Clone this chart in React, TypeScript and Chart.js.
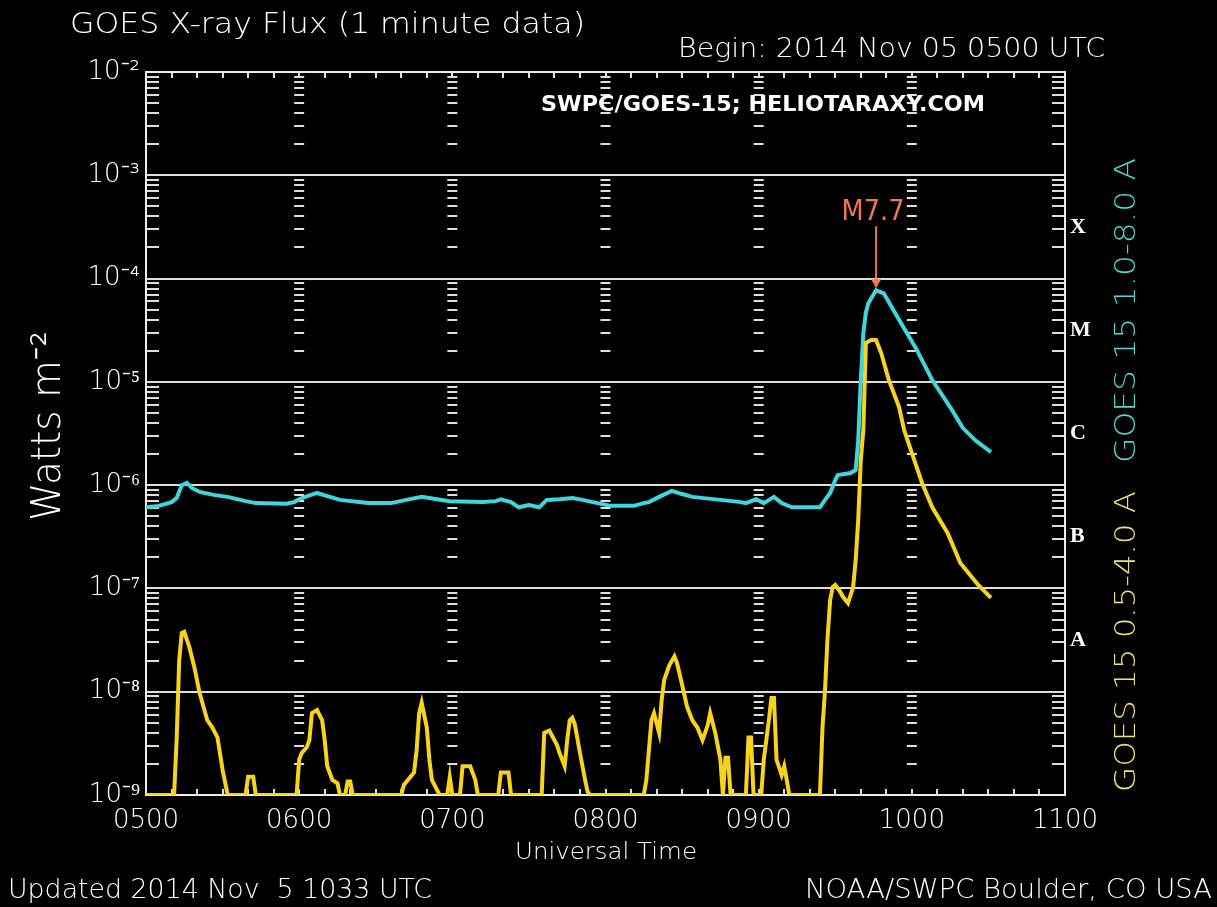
import React, { useEffect, useRef } from 'react';
import { Chart, registerables } from 'chart.js';

Chart.register(...registerables);

// ---------------- data ----------------
const timeTickLabels = ['0500', '0600', '0700', '0800', '0900', '1000', '1100'];
const decadeExponents = [-9, -8, -7, -6, -5, -4, -3, -2];
const classLabels = ['A', 'B', 'C', 'M', 'X'];
const classBaseExponents = [-8, -7, -6, -5, -4];

// GOES 15 1.0-8.0 A (minutes after 0500 UTC, W/m^2)
const longMinutes = [0, 5, 10, 12, 14, 16, 18, 21, 27, 32, 39, 43, 55, 58, 61, 67, 72, 76, 87, 96, 102, 108, 114, 119, 132, 137, 139, 143, 146, 150, 154, 157, 162, 167, 171, 175, 182, 191, 195, 197, 201, 206, 210, 214, 225, 233, 235, 239, 242, 246, 249, 253, 264, 266, 268, 270, 271, 276, 278, 279, 280, 281, 282, 283, 286, 289, 295, 302, 308, 315, 320, 325, 331];
const longFlux = [6.1e-7, 6.3e-7, 6.85e-7, 7.5e-7, 1.0e-6, 1.05e-6, 9.4e-7, 8.6e-7, 8.0e-7, 7.7e-7, 7.0e-7, 6.7e-7, 6.6e-7, 6.85e-7, 7.5e-7, 8.4e-7, 7.7e-7, 7.2e-7, 6.7e-7, 6.7e-7, 7.2e-7, 7.7e-7, 7.3e-7, 7.0e-7, 6.85e-7, 7.0e-7, 7.3e-7, 6.85e-7, 6.1e-7, 6.4e-7, 6.1e-7, 7.2e-7, 7.3e-7, 7.5e-7, 7.2e-7, 6.85e-7, 6.3e-7, 6.3e-7, 6.7e-7, 6.85e-7, 7.7e-7, 8.8e-7, 8.2e-7, 7.7e-7, 7.2e-7, 6.85e-7, 6.7e-7, 7.3e-7, 6.7e-7, 7.7e-7, 6.7e-7, 6.1e-7, 6.1e-7, 7.2e-7, 8.4e-7, 1.12e-6, 1.25e-6, 1.31e-6, 1.4e-6, 2.7e-6, 1.04e-5, 2.96e-5, 4.7e-5, 5.8e-5, 7.7e-5, 7.2e-5, 4.0e-5, 2.03e-5, 1.04e-5, 5.7e-6, 3.57e-6, 2.7e-6, 2.09e-6];

// GOES 15 0.5-4.0 A
const shortMinutes = [0, 11, 12, 13, 14, 15, 16, 17, 19, 21, 24, 26, 28, 30, 32, 39, 40, 42, 43, 59, 60, 61, 63, 64, 65, 67, 69, 70, 71, 73, 75, 76, 78, 79, 80, 81, 100, 101, 105, 106, 107, 108, 110, 111, 112, 115, 118, 119, 120, 123, 124, 127, 129, 130, 138, 139, 142, 143, 155, 156, 158, 161, 162, 164, 165, 166, 167, 168, 170, 172, 173, 174, 195, 196, 198, 199, 201, 202, 203, 205, 207, 208, 209, 212, 214, 216, 218, 220, 221, 223, 225, 226, 227, 228, 229, 235, 236, 237, 238, 241, 242, 244, 245, 246, 247, 249, 250, 251, 252, 264, 265, 266, 267, 268, 269, 270, 272, 273, 275, 277, 278, 279, 280, 281, 282, 284, 286, 288, 291, 295, 297, 300, 304, 308, 314, 319, 326, 331];
const shortFlux = [1e-9, 1e-9, 3.4e-9, 2.0e-8, 3.7e-8, 3.8e-8, 3.2e-8, 2.7e-8, 1.7e-8, 9.7e-9, 5.3e-9, 4.5e-9, 3.6e-9, 1.75e-9, 1e-9, 1e-9, 1.5e-9, 1.5e-9, 1e-9, 1e-9, 2.2e-9, 2.55e-9, 2.9e-9, 3.4e-9, 6.2e-9, 6.65e-9, 5.3e-9, 3.4e-9, 1.9e-9, 1.4e-9, 1.3e-9, 1e-9, 1e-9, 1.35e-9, 1.35e-9, 1e-9, 1e-9, 1.25e-9, 1.65e-9, 2.7e-9, 6.2e-9, 7.8e-9, 4.5e-9, 2.2e-9, 1.4e-9, 1e-9, 1e-9, 1.5e-9, 1e-9, 1e-9, 1.9e-9, 1.9e-9, 1.4e-9, 1e-9, 1e-9, 1.65e-9, 1.65e-9, 1e-9, 1e-9, 4.0e-9, 4.2e-9, 3.05e-9, 2.55e-9, 1.9e-9, 3.4e-9, 5.3e-9, 5.6e-9, 4.8e-9, 2.55e-9, 1.4e-9, 1.07e-9, 1e-9, 1e-9, 1.4e-9, 5.3e-9, 6.2e-9, 4.0e-9, 8.3e-9, 1.3e-8, 1.8e-8, 2.2e-8, 1.9e-8, 1.5e-8, 7.1e-9, 5.3e-9, 4.5e-9, 3.4e-9, 4.7e-9, 6.2e-9, 4.0e-9, 2.2e-9, 1e-9, 2.3e-9, 2.3e-9, 1e-9, 1e-9, 3.6e-9, 3.6e-9, 1e-9, 1e-9, 2.2e-9, 5.3e-9, 8.7e-9, 8.7e-9, 2.2e-9, 1.56e-9, 1.9e-9, 1.4e-9, 1e-9, 1e-9, 4.5e-9, 1.04e-8, 3.4e-8, 7.7e-8, 1.03e-7, 1.08e-7, 9.2e-8, 8.3e-8, 7.2e-8, 1.03e-7, 1.88e-7, 4.6e-7, 1.75e-6, 3.4e-6, 2.38e-5, 2.54e-5, 2.54e-5, 1.9e-5, 1.04e-5, 5.7e-6, 3.4e-6, 2.05e-6, 1.05e-6, 6.1e-7, 3.44e-7, 1.76e-7, 1.08e-7, 8.1e-8];

// ---------------- styling ----------------
const FONT = '"DejaVu Sans", sans-serif';
const THIN = '200';
const WHITE = '#ffffff';
const GRID = '#dedede';
const CYAN = '#3ed6dc';
const YELLOW = '#f8d31c';
const ORANGE = '#f07650';

const SUP: Record<string, string> = { '-': '\u207B', '0': '\u2070', '1': '\u00B9', '2': '\u00B2', '3': '\u00B3', '4': '\u2074', '5': '\u2075', '6': '\u2076', '7': '\u2077', '8': '\u2078', '9': '\u2079' };
const sup = (s: string) => s.split('').map((c) => SUP[c] ?? c).join('');

function fitText(ctx: CanvasRenderingContext2D, text: string, x: number, y: number, font: string, color: string, width: number, align: 'left' | 'right' | 'center' = 'left', angle = 0) {
  ctx.save();
  ctx.font = font;
  ctx.fillStyle = color;
  ctx.textBaseline = 'alphabetic';
  ctx.textAlign = 'left';
  const w = ctx.measureText(text).width;
  const sx = width / w;
  ctx.translate(x, y);
  if (angle) ctx.rotate(angle);
  const start = align === 'left' ? 0 : align === 'right' ? -width : -width / 2;
  ctx.translate(start, 0);
  ctx.scale(sx, 1);
  ctx.fillText(text, 0, 0);
  ctx.restore();
}

// GOES class of a flux: the decade starting at 10^e (A=1e-8 ... X=1e-4) plus the mantissa
function peakClassLabel(v: number) {
  const e = Math.floor(Math.log10(v));
  const idx = classBaseExponents.indexOf(e);
  const letter = idx >= 0 ? classLabels[idx] : '';
  return letter + (v / Math.pow(10, e)).toFixed(1);
}

const goesPlugin = {
  id: 'goesDecor',
  beforeDraw(chart: any) {
    const { ctx, width, height } = chart;
    ctx.save();
    ctx.fillStyle = '#000';
    ctx.fillRect(0, 0, width, height);
    ctx.restore();
  },
  beforeDatasetsDraw(chart: any) {
    const { ctx, chartArea: a, scales } = chart;
    const xs = scales.x;
    const ys = scales.y;
    ctx.save();
    ctx.strokeStyle = GRID;
    ctx.lineWidth = 2;
    // log minor ticks on every hour column
    timeTickLabels.forEach((_, i) => {
      const x = xs.getPixelForValue(i * 60);
      for (let d = decadeExponents[0]; d < decadeExponents[decadeExponents.length - 1]; d++) {
        for (let k = 2; k <= 9; k++) {
          const y = Math.round(ys.getPixelForValue(k * Math.pow(10, d)));
          let x0 = x - 5;
          let x1 = x + 5;
          if (i === 0) { x0 = a.left; x1 = a.left + 13; }
          if (i === timeTickLabels.length - 1) { x0 = a.right - 13; x1 = a.right; }
          ctx.beginPath();
          ctx.moveTo(x0, y);
          ctx.lineTo(x1, y);
          ctx.stroke();
        }
      }
    });
    // 10-minute ticks top and bottom
    for (let m = 10; m < 360; m += 10) {
      const x = Math.round(xs.getPixelForValue(m));
      ctx.beginPath();
      ctx.moveTo(x, a.bottom);
      ctx.lineTo(x, a.bottom - 6);
      ctx.moveTo(x, a.top);
      ctx.lineTo(x, a.top + 6);
      ctx.stroke();
    }
    // frame
    ctx.strokeStyle = '#ececec';
    ctx.strokeRect(a.left, a.top, a.right - a.left, a.bottom - a.top);
    ctx.restore();
  },
  afterDraw(chart: any) {
    const { ctx, scales } = chart;
    const xs = scales.x;
    const ys = scales.y;
    fitText(ctx, 'GOES X-ray Flux (1 minute data)', 70, 33, `${THIN} 28px ${FONT}`, WHITE, 515, 'left');
    fitText(ctx, 'Begin: 2014 Nov 05 0500 UTC', 1105, 57, `${THIN} 27px ${FONT}`, WHITE, 427, 'right');
    fitText(ctx, 'SWPC/GOES-15; HELIOTARAXY.COM', 541, 111, `bold 22px ${FONT}`, '#ffffff', 444, 'left');
    fitText(ctx, 'Watts m' + sup('-2'), 60, 521, `${THIN} 40px ${FONT}`, WHITE, 190, 'left', -Math.PI / 2);
    fitText(ctx, 'GOES 15 1.0-8.0 A', 1135, 463, `${THIN} 29px ${FONT}`, '#52d6d2', 305, 'left', -Math.PI / 2);
    fitText(ctx, 'GOES 15 0.5-4.0 A', 1135, 792, `${THIN} 29px ${FONT}`, '#f2df78', 301, 'left', -Math.PI / 2);
    fitText(ctx, 'Universal Time', 606, 859, `${THIN} 23px ${FONT}`, WHITE, 182, 'center');
    fitText(ctx, 'Updated 2014 Nov  5 1033 UTC', 8, 898, `${THIN} 27px ${FONT}`, WHITE, 424, 'left');
    fitText(ctx, 'NOAA/SWPC Boulder, CO USA', 1212, 898, `${THIN} 27px ${FONT}`, WHITE, 407, 'right');

    // peak annotation
    let pi = 0;
    longFlux.forEach((v, i) => { if (v > longFlux[pi]) pi = i; });
    const px = xs.getPixelForValue(longMinutes[pi]);
    const py = ys.getPixelForValue(longFlux[pi]);
    ctx.save();
    ctx.strokeStyle = ORANGE;
    ctx.fillStyle = ORANGE;
    ctx.lineWidth = 2;
    ctx.beginPath();
    ctx.moveTo(px, py - 64);
    ctx.lineTo(px, py - 9);
    ctx.stroke();
    ctx.beginPath();
    ctx.moveTo(px - 5, py - 11);
    ctx.lineTo(px + 5, py - 11);
    ctx.lineTo(px, py - 2);
    ctx.closePath();
    ctx.fill();
    ctx.restore();
    fitText(ctx, peakClassLabel(longFlux[pi]), px - 3, py - 70, `28px ${FONT}`, ORANGE, 63, 'center');
  },
};

export default function App() {
  const ref = useRef<HTMLCanvasElement>(null);
  useEffect(() => {
    document.body.style.margin = '0';
    document.body.style.background = '#000';
    const canvas = ref.current;
    if (!canvas) return;
    const chart = new Chart(canvas, {
      type: 'line',
      data: {
        datasets: [
          {
            label: 'GOES 15 0.5-4.0 A',
            data: shortMinutes.map((m, i) => ({ x: m, y: shortFlux[i] })),
            borderColor: YELLOW,
            borderWidth: 4,
            pointRadius: 0,
            tension: 0,
            xAxisID: 'x',
            yAxisID: 'y',
          },
          {
            label: 'GOES 15 1.0-8.0 A',
            data: longMinutes.map((m, i) => ({ x: m, y: longFlux[i] })),
            borderColor: CYAN,
            borderWidth: 4,
            pointRadius: 0,
            tension: 0,
            xAxisID: 'x',
            yAxisID: 'y',
          },
        ],
      },
      options: {
        responsive: false,
        animation: false,
        devicePixelRatio: 1,
        layout: { padding: { top: 72, left: 0, right: 0, bottom: 0 } },
        plugins: { legend: { display: false }, tooltip: { enabled: false }, title: { display: false } },
        scales: {
          x: {
            type: 'linear',
            position: 'bottom',
            min: 0,
            max: (timeTickLabels.length - 1) * 60,
            afterBuildTicks: (scale: any) => {
              scale.ticks = timeTickLabels.map((_, i) => ({ value: i * 60 }));
            },
            afterFit: (scale: any) => { scale.height = 112; },
            grid: { display: false, drawTicks: false },
            border: { display: false },
            ticks: {
              autoSkip: false,
              maxRotation: 0,
              padding: 11,
              color: WHITE,
              font: { family: 'DejaVu Sans', size: 26, weight: 200 },
              callback: (v: any) => timeTickLabels[Math.round(Number(v) / 60)] ?? '',
            },
          },
          y: {
            type: 'logarithmic',
            position: 'left',
            min: Math.pow(10, decadeExponents[0]),
            max: Math.pow(10, decadeExponents[decadeExponents.length - 1]),
            afterBuildTicks: (scale: any) => {
              scale.ticks = decadeExponents.map((e) => ({ value: Math.pow(10, e) }));
            },
            afterFit: (scale: any) => { scale.width = 146; },
            grid: {
              drawTicks: false,
              color: GRID,
              lineWidth: 2,
            },
            border: { display: false },
            ticks: {
              autoSkip: false,
              padding: 6,
              color: WHITE,
              font: { family: 'DejaVu Sans', size: 26, weight: 200 },
              callback: (v: any) => '10' + sup(String(Math.round(Math.log10(Number(v))))),
            },
          },
          y2: {
            type: 'logarithmic',
            position: 'right',
            min: Math.pow(10, decadeExponents[0]),
            max: Math.pow(10, decadeExponents[decadeExponents.length - 1]),
            afterBuildTicks: (scale: any) => {
              scale.ticks = classBaseExponents.map((e) => ({ value: Math.pow(10, e + 0.5) }));
            },
            afterFit: (scale: any) => { scale.width = 152; },
            grid: { display: false, drawTicks: false },
            border: { display: false },
            ticks: {
              autoSkip: false,
              padding: 5,
              color: '#ffffff',
              font: { family: 'Liberation Serif', size: 22, weight: 'bold' },
              callback: (_v: any, i: number) => classLabels[i] ?? '',
            },
          },
        },
      },
      plugins: [goesPlugin],
    } as any);
    return () => chart.destroy();
  }, []);
  return (
    <div style={{ position: 'fixed', left: 0, top: 0, width: 1217, height: 907, background: '#000' }}>
      <canvas ref={ref} width={1217} height={907} style={{ display: 'block', width: 1217, height: 907 }} />
    </div>
  );
}
